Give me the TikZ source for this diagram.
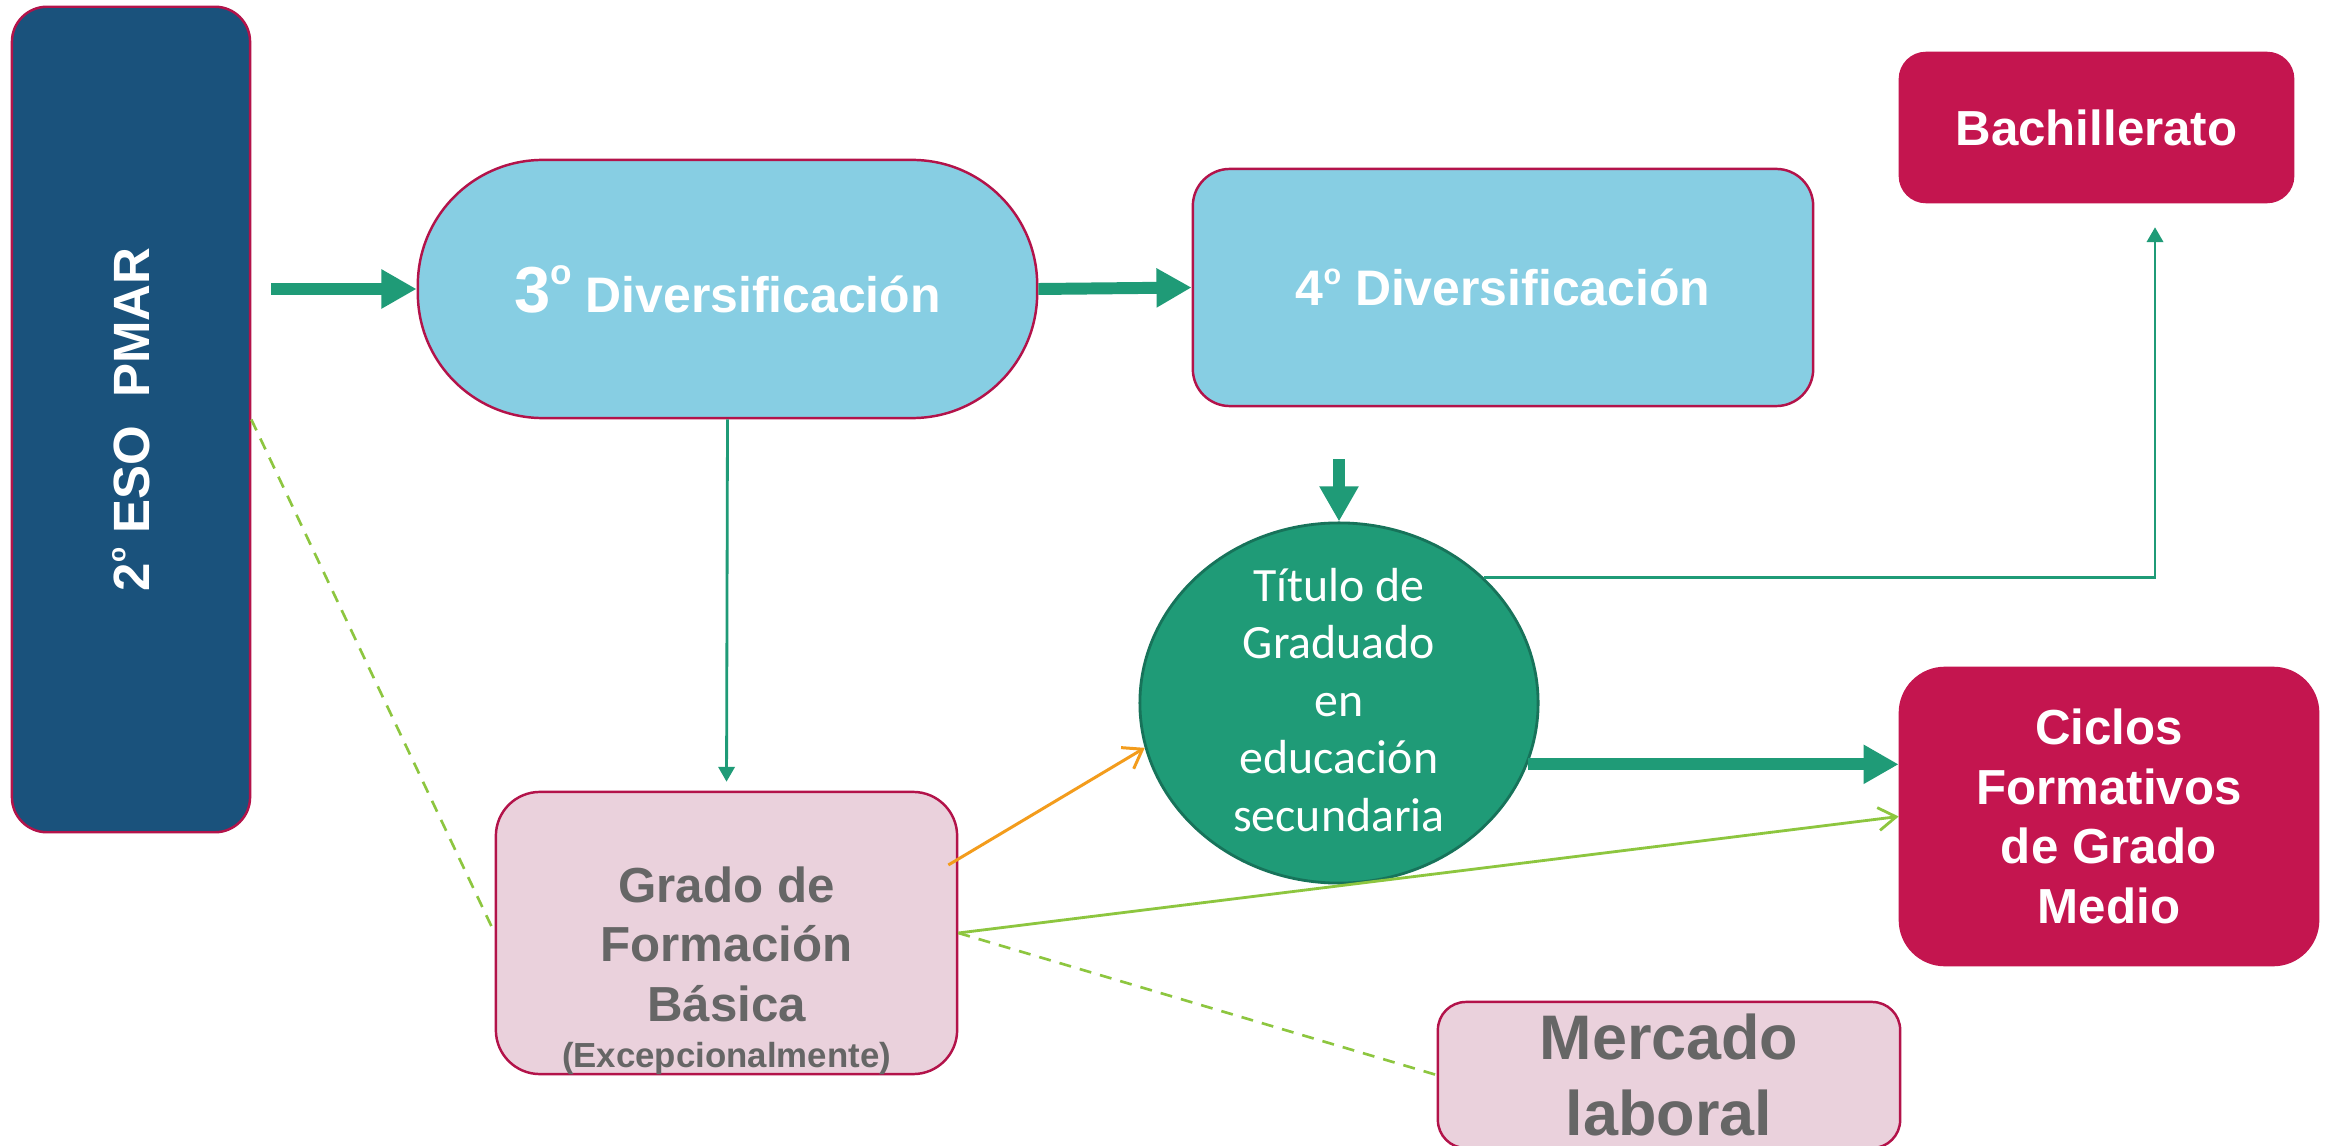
\documentclass[tikz,border=0pt]{standalone}
\usepackage{fontspec}
\usepackage{graphicx}
\setmainfont{Liberation Sans}
\newfontfamily\calib{Carlito}
\usetikzlibrary{arrows.meta,shapes.geometric,calc}
\definecolor{pmarblue}{HTML}{1A527C}
\definecolor{lblue}{HTML}{87CEE3}
\definecolor{crim}{HTML}{C4154F}
\definecolor{crimedge}{HTML}{B3134A}
\definecolor{tealc}{HTML}{1F9B77}
\definecolor{tealedge}{HTML}{17735A}
\definecolor{pinkc}{HTML}{EAD1DC}
\definecolor{grayt}{HTML}{666666}
\definecolor{orangec}{HTML}{F39C1C}
\definecolor{limec}{HTML}{8DC63F}
\newcommand\supo[2]{\raisebox{#1}{\fontsize{#2}{#2}\selectfont o}}
\begin{document}
\begin{tikzpicture}[x=0.01cm,y=-0.01cm,
  box/.style={inner sep=0pt, align=center, line width=0.7pt, draw=crimedge},
  pmarbox/.style={box, fill=pmarblue, text=white, minimum width=2.38cm, minimum height=8.25cm, rounded corners=0.35cm, font=\fontsize{14.5pt}{17pt}\selectfont\bfseries},
  divbox/.style={box, fill=lblue, text=white, font=\fontsize{14.2pt}{17pt}\selectfont\bfseries},
  redbox/.style={box, fill=crim, draw=crim, text=white, font=\fontsize{14pt}{16.9pt}\selectfont\bfseries},
  pinkbox/.style={box, fill=pinkc, text=grayt, font=\fontsize{14pt}{16.9pt}\selectfont\bfseries},
  titnode/.style={ellipse, inner sep=0pt, fill=tealc, draw=tealedge, line width=0.8pt, text=white, minimum width=3.98cm, minimum height=3.6cm, font=\calib\fontsize{13.6pt}{16.36pt}\selectfont},
  thickarrow/.style={draw=tealc, line width=3.4pt, -{Triangle[length=10pt,width=10.5pt]}},
  thinarrow/.style={draw=tealc, line width=0.8pt, -{Triangle[length=4.2pt,width=4.6pt]}},
  orangearrow/.style={draw=orangec, line width=0.85pt, -{Straight Barb[length=5pt,width=7pt]}},
  greenarrow/.style={draw=limec, line width=0.8pt, -{Straight Barb[length=5pt,width=6.5pt]}},
  greendash/.style={draw=limec, line width=0.75pt, dash pattern=on 3.4pt off 2.6pt}
]
\useasboundingbox (0,0) rectangle (2330,1146);
\fill[white] (0,0) rectangle (2330,1146);
\clip (0,0) rectangle (2330,1146);

% nodes
\node[pmarbox] (pmar) at (131,419.5) {\rotatebox{90}{2\supo{6.8pt}{7pt} ESO\ \ PMAR}};
\node[divbox, minimum width=6.19cm, minimum height=2.58cm, rounded corners=1.25cm] (d3) at (727.5,289)
  {{\fontsize{18.5pt}{20pt}\selectfont 3}\supo{8pt}{10pt} Diversificación};
\node[divbox, minimum width=6.2cm, minimum height=2.37cm, rounded corners=0.37cm] (d4) at (1503,287.5)
  {4\supo{6pt}{8.2pt} Diversificación};
\node[redbox, minimum width=3.93cm, minimum height=1.49cm, rounded corners=0.26cm] (bach) at (2096.5,127.5) {Bachillerato};
\node[redbox, minimum width=4.18cm, minimum height=2.97cm, rounded corners=0.45cm] (ciclos) at (2109,816.5)
  {Ciclos\\Formativos\\de Grado\\Medio};
\node[titnode] (tit) at (1339,703)
  {\raisebox{-4.1pt}[0pt][0pt]{\begin{tabular}{@{}c@{}}Título de\\Graduado\\en\\educación\\secundaria\end{tabular}}};
\node[pinkbox, minimum width=4.61cm, minimum height=2.82cm, rounded corners=0.44cm] (grado) at (726.5,933)
  {\raisebox{-15pt}[0pt][0pt]{\begin{tabular}{@{}c@{}}Grado de\\Formación\\Básica\\[-3.8pt]{\fontsize{9.9pt}{12pt}\selectfont (Excepcionalmente)}\end{tabular}}};
\node[pinkbox, minimum width=4.62cm, minimum height=1.46cm, rounded corners=0.28cm, font=\fontsize{17.9pt}{21.6pt}\selectfont\bfseries] (merc) at (1669,1075)
  {Mercado\\laboral};

% connectors
\draw[thickarrow, shorten <=0.2cm] (pmar.east |- d3.west) -- (d3.west);
\draw[thickarrow] (d3.east) -- (d4.west);
\draw[thickarrow, shorten <=0.52cm] (d4.south -| tit.north) -- (tit.north);
\draw[thinarrow, shorten >=0.09cm] (d3.south) -- (grado.north);
\draw[thickarrow] (tit.-18.3) -- (tit.-18.3 -| ciclos.west);
\coordinate (bk) at (2155,575);
\draw[thinarrow] (tit.41.6) -- (tit.41.6 -| bk) -- ($(bk |- bach.south)+(0,24)$);
\draw[orangearrow] ([xshift=-0.1cm,yshift=0.68cm]grado.east) -- (tit.193.9);
\draw[greenarrow] (grado.east) -- (ciclos.west);
\draw[greendash] (pmar.east) -- (grado.west);
\draw[greendash] (grado.east) -- (merc.west);
\end{tikzpicture}
\end{document}
